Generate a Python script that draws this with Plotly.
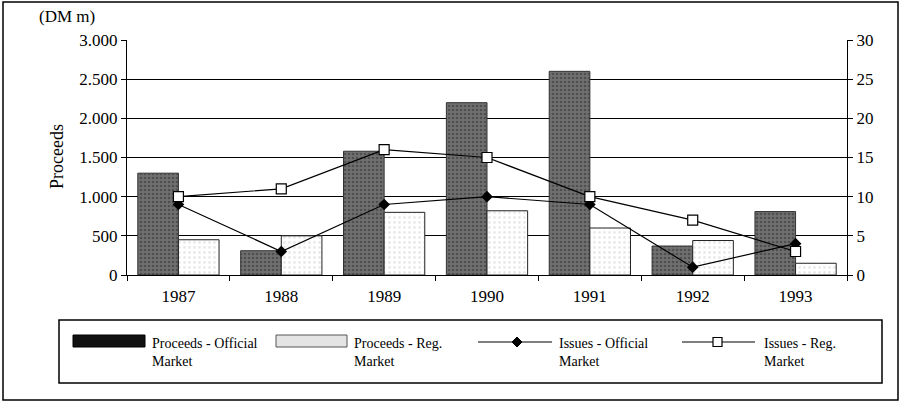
import plotly.graph_objects as go

years = ["1987", "1988", "1989", "1990", "1991", "1992", "1993"]
proceeds_official = [1300, 310, 1580, 2200, 2600, 370, 810]
proceeds_reg = [450, 500, 800, 820, 600, 440, 150]
issues_official = [9, 3, 9, 10, 9, 1, 4]
issues_reg = [10, 11, 16, 15, 10, 7, 3]

FONT = "Liberation Serif"
W, H = 901, 402
L, R, T, B = 127, 847, 40, 275


def px(x):
    return (x - L) / (R - L)


def py(y):
    return (B - y) / (B - T)


fig = go.Figure()
fig.add_trace(go.Bar(
    x=years, y=proceeds_official, name="Proceeds - Official Market",
    marker=dict(color="#707070", line=dict(color="#333333", width=1),
                pattern=dict(shape=".", fgcolor="#2e2e2e", size=4, solidity=0.35)),
    showlegend=False,
))
fig.add_trace(go.Bar(
    x=years, y=proceeds_reg, name="Proceeds - Reg. Market",
    marker=dict(color="#ffffff", line=dict(color="#222222", width=1),
                pattern=dict(shape=".", fgcolor="#d4d4d4", size=5, solidity=0.25)),
    showlegend=False,
))
fig.add_trace(go.Scatter(
    x=years, y=issues_official, yaxis="y2", mode="lines+markers",
    name="Issues - Official Market",
    line=dict(color="#000000", width=1.2),
    marker=dict(symbol="diamond", size=9, color="#000000"),
    showlegend=False,
))
fig.add_trace(go.Scatter(
    x=years, y=issues_reg, yaxis="y2", mode="lines+markers",
    name="Issues - Reg. Market",
    line=dict(color="#000000", width=1.2),
    marker=dict(symbol="square", size=10, color="#ffffff",
                line=dict(color="#000000", width=1.2)),
    showlegend=False,
))

shapes = [
    # outer frame
    dict(type="rect", xref="paper", yref="paper", x0=px(3), x1=px(898), y0=py(2), y1=py(400),
         line=dict(color="#000000", width=1.5)),
    # legend box
    dict(type="rect", xref="paper", yref="paper", x0=px(59), x1=px(882), y0=py(320), y1=py(383),
         line=dict(color="#000000", width=1.5)),
    # legend swatch 1
    dict(type="rect", xref="paper", yref="paper", x0=px(73), x1=px(145), y0=py(335), y1=py(347),
         line=dict(color="#000000", width=1), fillcolor="#111111"),
    # legend swatch 2
    dict(type="rect", xref="paper", yref="paper", x0=px(276), x1=px(347), y0=py(335), y1=py(347),
         line=dict(color="#555555", width=1), fillcolor="#e4e4e4"),
    # legend line 3
    dict(type="line", xref="paper", yref="paper", x0=px(478), x1=px(552), y0=py(342), y1=py(342),
         line=dict(color="#000000", width=1.2)),
    dict(type="path", xref="paper", yref="paper",
         path=f"M {px(512)},{py(342)} L {px(517)},{py(337)} L {px(522)},{py(342)} L {px(517)},{py(347)} Z",
         fillcolor="#000000", line=dict(color="#000000", width=1)),
    # legend line 4
    dict(type="line", xref="paper", yref="paper", x0=px(682), x1=px(755), y0=py(342), y1=py(342),
         line=dict(color="#000000", width=1.2)),
    dict(type="rect", xref="paper", yref="paper", x0=px(713), x1=px(722), y0=py(337.5), y1=py(346.5),
         fillcolor="#ffffff", line=dict(color="#000000", width=1.2)),
]

legend_texts = [
    (150, "Proceeds - Official<br>Market"),
    (352, "Proceeds - Reg.<br>Market"),
    (557, "Issues - Official<br>Market"),
    (762, "Issues - Reg.<br>Market"),
]
annotations = []
for x0, txt in legend_texts:
    annotations.append(dict(
        x=px(x0), y=py(334), xref="paper", yref="paper", text=txt, showarrow=False,
        xanchor="left", yanchor="top", align="left",
        font=dict(family=FONT, size=14, color="#000000"),
    ))
annotations.append(dict(
    x=px(37), y=py(17), xref="paper", yref="paper", text="(DM m)", showarrow=False,
    xanchor="left", yanchor="middle", font=dict(family=FONT, size=17, color="#000000"),
))
annotations.append(dict(
    x=px(57), y=py(157), xref="paper", yref="paper", text="Proceeds", showarrow=False,
    textangle=-90, xanchor="center", yanchor="middle",
    font=dict(family=FONT, size=18, color="#000000"),
))

fig.update_layout(
    width=W, height=H,
    margin=dict(l=L, r=W - R, t=T, b=H - B),
    paper_bgcolor="#ffffff", plot_bgcolor="#ffffff",
    barmode="group", bargap=0.21, bargroupgap=0,
    separators=",.",
    font=dict(family=FONT, size=17, color="#000000"),
    xaxis=dict(
        type="category", tickson="boundaries", ticks="outside", ticklen=5,
        tickcolor="#000000", showline=True, linecolor="#000000", linewidth=1,
        showgrid=False, tickfont=dict(family=FONT, size=17), ticklabelstandoff=6,
    ),
    yaxis=dict(
        range=[0, 3000], dtick=500, tickformat=",d", ticks="outside", ticklen=5,
        tickcolor="#000000", showline=True, linecolor="#000000", linewidth=1,
        showgrid=True, gridcolor="#000000", gridwidth=1, zeroline=False,
        tickfont=dict(family=FONT, size=17),
    ),
    yaxis2=dict(
        range=[0, 30], dtick=5, overlaying="y", side="right", ticks="outside", ticklen=5,
        tickcolor="#000000", showline=True, linecolor="#000000", linewidth=1,
        showgrid=False, zeroline=False, tickfont=dict(family=FONT, size=17),
    ),
    shapes=shapes,
    annotations=annotations,
)

fig.write_html(
    "out.html",
    config={"displayModeBar": False},
    post_script="document.body.style.margin='0';document.body.style.overflow='hidden';",
)
